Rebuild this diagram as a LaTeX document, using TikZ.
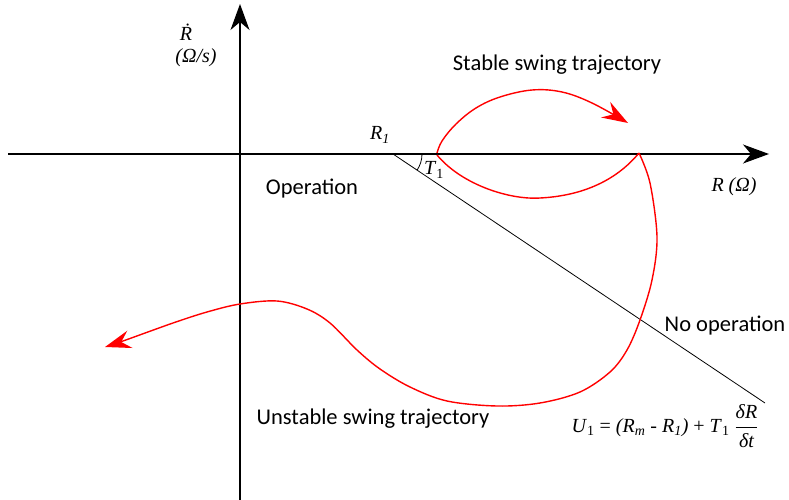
\documentclass[tikz,border=0pt]{standalone}
\usepackage{fontspec}
\usepackage{amsmath}
\setmainfont{Liberation Serif}
\newfontfamily\labfont{Carlito}
\usetikzlibrary{arrows.meta}
\tikzset{
  axisline/.style={line width=1.3pt,-{Stealth[length=26pt,width=19pt,inset=8pt]}},
  diag/.style={line width=0.8pt},
  traj/.style={red,line width=1.4pt},
  trajarrow/.style={traj,-{Stealth[length=26pt,width=18pt,inset=9pt]}},
  lab/.style={font=\labfont\fontsize{22.5}{26}\selectfont,inner sep=0pt},
  mlab/.style={font=\fontsize{20}{24}\selectfont\itshape,inner sep=0pt},
}
\begin{document}
\begin{tikzpicture}[x=1pt,y=-1pt]
\useasboundingbox (0,0) rectangle (789,500);
% axes
\coordinate (xs) at (8,154);
\coordinate (xe) at (769,154);
\coordinate (ys) at (240,500);
\coordinate (ye) at (240,4);
\draw[axisline] (xs) -- (xe);
\draw[axisline] (ys) -- (ye);
% switching line
\coordinate (d1) at (393,154);
\coordinate (d2) at (765,403);
\draw[diag] (d1) -- (d2);
\draw[diag] (d1) ++(29,0) arc[start angle=0,end angle=33.8,radius=29];
% trajectories
\draw[trajarrow] plot[smooth,tension=0.6] coordinates {(437,153) (442,141) (456,124) (476,108) (500,97) (532,90) (562,92) (592,103) (628,123)};
\draw[traj] (437,155) .. controls (462,185) and (510,200) .. (540,198)
            .. controls (580,196) and (615,182) .. (639,153);
\draw[trajarrow] plot[smooth,tension=0.55] coordinates {(639,153) (650,183) (657,237) (652,280) (640,320) (627,350) (610,372) (580,392) (540,403) (497,406) (447,401) (410,387) (380,369) (357,350) (330,323) (307,309) (277,301) (240,304) (207,312) (173,323) (123,341) (105,347)};
% labels
\node[lab] (stable) at (557,65) {Stable swing trajectory};
\node[lab] (oper) at (312,189) {Operation};
\node[lab] (noop) at (725,326) {No operation};
\node[lab] (unstable) at (373,419) {Unstable swing trajectory};
\node[mlab] (rax) at (734,187) {R (Ω)};
\node[mlab] (rdot) at (186,32) {\.{R}};
\node[mlab] (unit) at (196,58) {(Ω/s)};
\node[mlab] (r1) at (380,135) {R\textsubscript{1}};
\node[mlab,font=\fontsize{20}{24}\selectfont] (t1) at (434,170) {\textit{T}\textsubscript{1}};
\node[mlab,font=\fontsize{20}{24}\selectfont] (form) at (665,426) {\textit{U}\textsubscript{1} = \textit{(R\textsubscript{m} - R\textsubscript{1})} + \textit{T}\textsubscript{1} $\dfrac{\text{\itshape δR}}{\text{\itshape δt}}$};
\end{tikzpicture}
\end{document}
